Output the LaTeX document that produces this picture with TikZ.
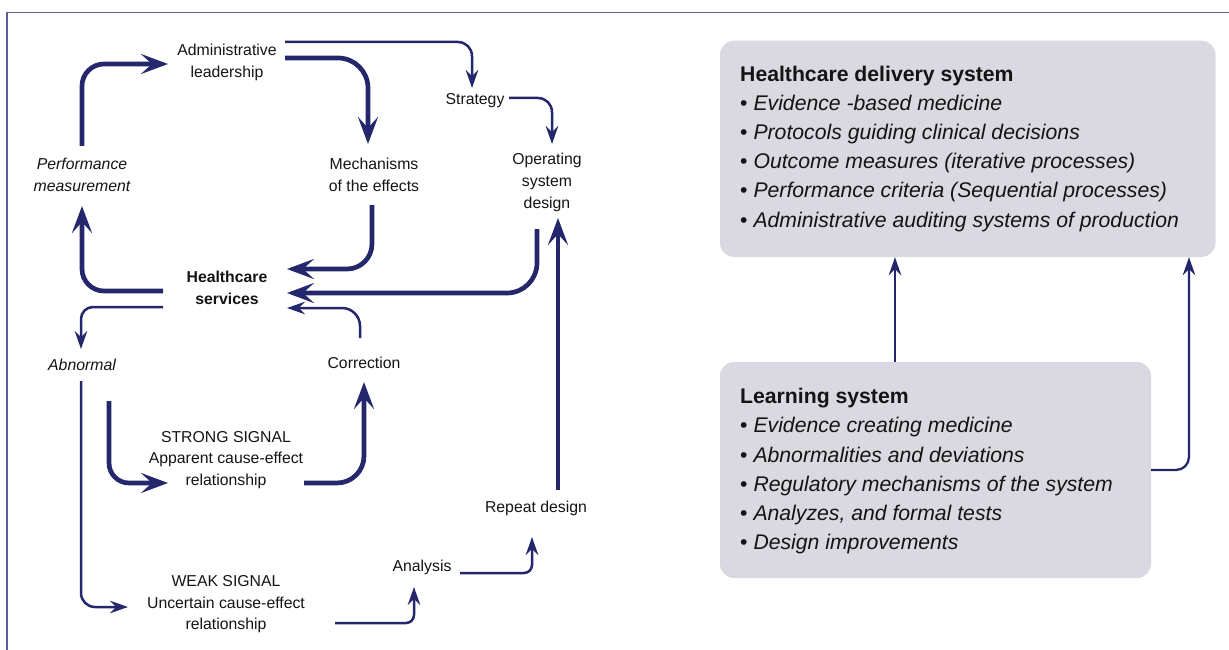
\documentclass[tikz,border=0pt]{standalone}
\usepackage{fontspec}
\setmainfont{Liberation Sans}
\usetikzlibrary{arrows.meta,calc}
\definecolor{navy}{HTML}{24276B}
\definecolor{framec}{HTML}{5E5E9C}
\definecolor{boxfill}{HTML}{DAD9E1}
\definecolor{ink}{HTML}{141414}
\begin{document}
\begin{tikzpicture}[x=1pt,y=-1pt,
  lbl/.style={inner sep=0pt, anchor=base, align=center, text=ink,
    font=\fontsize{15.8}{22}\selectfont},
  fat/.style={draw=navy, line width=4.7pt, rounded corners=24pt,
    -{Stealth[length=27pt,width=20pt,inset=11pt]}},
  slim/.style={draw=navy, line width=2.5pt, rounded corners=13pt,
    -{Stealth[length=18pt,width=12.5pt,inset=6pt]}},
  panel/.style={fill=boxfill, rounded corners=14pt, inner sep=0pt},
  ptext/.style={inner sep=0pt, anchor=base west, align=left, text=ink,
    font=\fontsize{21.2}{29.2}\selectfont},
]
\useasboundingbox (0,0) rectangle (1229,650);

% outer frame (top and left rules)
\draw[framec, line width=1.5pt] (7,650) -- (7,12.5) -- (1229,12.5);

% ---------- left: cycle of the healthcare services ----------
% (node positions are the baselines of the last lines)
\node[lbl] (adm)  at (227,78)    {Administrative\\leadership};
\node[lbl] (stg)  at (475,105)   {Strategy};
\node[lbl] (ops)  at (547,208.5) {Operating\\system\\design};
\node[lbl] (mech) at (374,191.5) {Mechanisms\\of the effects};
\node[lbl] (perf) at (82,191.5)  {\itshape Performance\\\itshape measurement};
\node[lbl] (hcs)  at (227,304.5) {\bfseries Healthcare\\\bfseries services};
\node[lbl] (abn)  at (82,370.5)  {\itshape Abnormal};
\node[lbl] (cor)  at (364,368.5) {Correction};
\node[lbl, font=\fontsize{15.8}{21.3}\selectfont] (strong) at (226,485)
  {STRONG SIGNAL\\Apparent cause-effect\\relationship};
\node[lbl] (rep)  at (536,512.5) {Repeat design};
\node[lbl] (ana)  at (422,571.5) {Analysis};
\node[lbl, font=\fontsize{15.8}{21.5}\selectfont] (weak) at (226,629.5)
  {WEAK SIGNAL\\Uncertain cause-effect\\relationship};

% connector end points
\coordinate (perfTop) at (82,146);   \coordinate (admIn)   at (168,64);
\coordinate (admOutA) at (285,58);   \coordinate (mechIn)  at (368,144);
\coordinate (admOutB) at (285,42);   \coordinate (stgIn)   at (472,88);
\coordinate (stgOut)  at (509,98);   \coordinate (opsIn)   at (552,144);
\coordinate (mechOut) at (372,205);  \coordinate (hcsInA)  at (287,269);
\coordinate (opsOut)  at (537,229);  \coordinate (hcsInB)  at (287,293);
\coordinate (hcsOutA) at (163,291);  \coordinate (perfBot) at (82,206);
\coordinate (hcsOutB) at (163,307);  \coordinate (abnIn)   at (81,349);
\coordinate (corOut)  at (360,338);  \coordinate (hcsInC)  at (287,308);
\coordinate (abnOutA) at (81,381);   \coordinate (weakIn)  at (128,607);
\coordinate (abnOutB) at (109,401);  \coordinate (strIn)   at (168,483);
\coordinate (strOut)  at (304,483);  \coordinate (corIn)   at (364,382);
\coordinate (weakOut) at (335,623);  \coordinate (anaIn)   at (414,587);
\coordinate (anaOut)  at (460,573);  \coordinate (repIn)   at (532,537);
\coordinate (repOut)  at (558,490);  \coordinate (opsInB)  at (558,218);

\draw[fat, rounded corners=22pt] (perfTop) |- (admIn);
\draw[fat, rounded corners=30pt] (admOutA) -| (mechIn);
\draw[slim, rounded corners=14pt] (admOutB) -| (stgIn);
\draw[slim, rounded corners=14pt] (stgOut) -| (opsIn);
\draw[fat, rounded corners=25pt] (mechOut) |- (hcsInA);
\draw[fat, rounded corners=30pt] (opsOut) |- (hcsInB);
\draw[fat, rounded corners=22pt] (hcsOutA) -| (perfBot);
\draw[slim, rounded corners=12pt] (hcsOutB) -| (abnIn);
\draw[slim, rounded corners=18pt] (corOut) |- (hcsInC);
\draw[slim, rounded corners=14pt] (abnOutA) |- (weakIn);
\draw[fat, rounded corners=20pt] (abnOutB) |- (strIn);
\draw[fat, rounded corners=27pt] (strOut) -| (corIn);
\draw[slim, rounded corners=8pt] (weakOut) -| (anaIn);
\draw[slim, rounded corners=8pt] (anaOut) -| (repIn);
\draw[fat] (repOut) -- (opsInB);

% ---------- right: the two systems ----------
\node[panel, minimum width=495.5pt, minimum height=216.3pt] (hds) at (967.75,148.85) {};
\node[panel, minimum width=431pt, minimum height=216pt] (lrn) at (935.5,470) {};

\node[ptext] (hdstxt) at (740,227) {\textbf{Healthcare delivery system}\\
  • \textit{Evidence -based medicine}\\
  • \textit{Protocols guiding clinical decisions}\\
  • \textit{Outcome measures (iterative processes)}\\
  • \textit{Performance criteria (Sequential processes)}\\
  • \textit{Administrative auditing systems of production}};
\node[ptext] (lrntxt) at (740,549.6) {\textbf{Learning system}\\
  • \textit{Evidence creating medicine}\\
  • \textit{Abnormalities and deviations}\\
  • \textit{Regulatory mechanisms of the system}\\
  • \textit{Analyzes, and formal tests}\\
  • \textit{Design improvements}};

\coordinate (lrnTop)  at (lrn.north -| 895,0);
\coordinate (hdsBotA) at (hds.south -| 895,0);
\coordinate (lrnSide) at (lrn.east |- 0,470);
\coordinate (hdsBotB) at (hds.south -| 1189,0);

\draw[slim, line width=2.3pt] (lrnTop) -- (hdsBotA);
\draw[slim, line width=2.3pt, rounded corners=13pt] (lrnSide) -| (hdsBotB);
\end{tikzpicture}
\end{document}
